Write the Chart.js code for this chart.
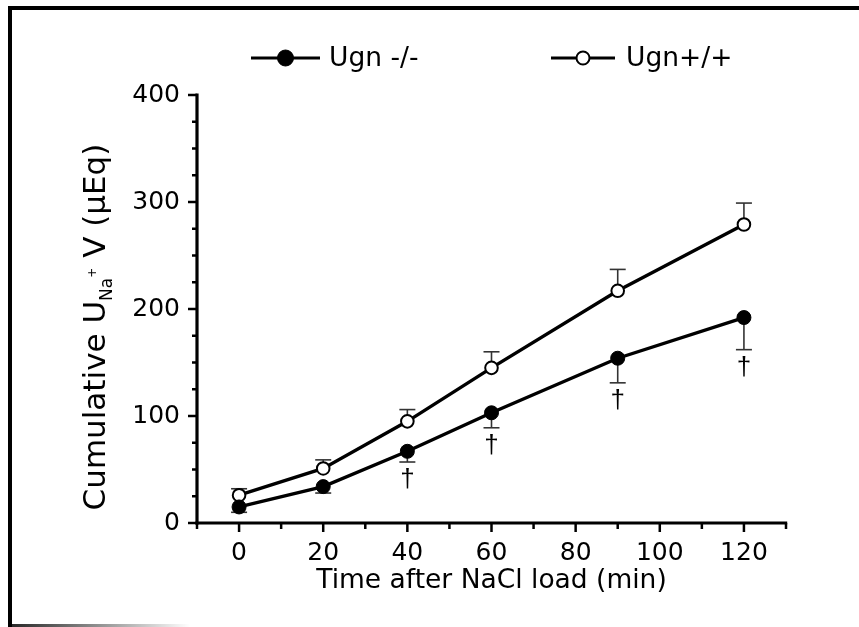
<!DOCTYPE html>
<html><head><meta charset="utf-8">
<script src="https://cdn.jsdelivr.net/npm/chart.js@4.4.0/dist/chart.umd.min.js"></script>
<style>html,body{margin:0;padding:0;background:#fff;overflow:hidden;}</style>
</head><body>
<canvas id="c" width="859" height="627"></canvas>
<script>
// ---- data ----
const timeMin = [0, 20, 40, 60, 90, 120];
const ugnKO = [15, 34, 67, 103, 154, 192];
const ugnKOErr = [5, 6, 10, 14, 23, 30];
const ugnWT = [26, 51, 95, 145, 217, 279];
const ugnWTErr = [6, 8, 11, 15, 20, 20];
const daggerTimes = [40, 60, 90, 120];
const xTickLabels = [0, 20, 40, 60, 80, 100, 120];
const xMinorTicks = [-10, 10, 30, 50, 70, 90, 110, 130];
const yTickLabels = [0, 100, 200, 300, 400];
const yMinorTicks = [25, 50, 75, 125, 150, 175, 225, 250, 275, 325, 350, 375];
const seriesNames = ['Ugn -/-', 'Ugn+/+'];
const xTitle = 'Time after NaCl load (min)';
const yTitleParts = ['Cumulative U', 'Na', '+', ' V (\u00B5Eq)'];

const FONT = "'DejaVu Sans', 'Liberation Sans', Arial, sans-serif";
const DAGGER_FONT = "'Liberation Sans', Arial, sans-serif";

const framePlugin = {
  id: 'frame',
  beforeDraw(chart) {
    const ctx = chart.ctx;
    ctx.save();
    ctx.fillStyle = '#fff';
    ctx.fillRect(0, 0, chart.width, chart.height);
    ctx.fillStyle = '#000';
    ctx.fillRect(8, 6, chart.width - 8, 4);
    ctx.fillRect(8, 6, 4, 621);
    const g = ctx.createLinearGradient(10, 0, 190, 0);
    g.addColorStop(0, 'rgba(0,0,0,0.85)');
    g.addColorStop(1, 'rgba(0,0,0,0)');
    ctx.fillStyle = g;
    ctx.fillRect(8, 624, 182, 3);
    ctx.restore();
  }
};

const axesPlugin = {
  id: 'axesLines',
  beforeDatasetsDraw(chart) {
    const {ctx, chartArea: a, scales: {x, y}} = chart;
    ctx.save();
    ctx.strokeStyle = '#000';
    ctx.lineWidth = 3.2;
    ctx.beginPath(); ctx.moveTo(a.left, a.top - 1.5); ctx.lineTo(a.left, a.bottom + 1.6); ctx.stroke();
    ctx.beginPath(); ctx.moveTo(a.left - 1.6, a.bottom); ctx.lineTo(a.right + 1.2, a.bottom); ctx.stroke();
    ctx.lineWidth = 2.5;
    const hl = (v, len) => { const p = y.getPixelForValue(v); ctx.beginPath(); ctx.moveTo(a.left, p); ctx.lineTo(a.left - len, p); ctx.stroke(); };
    const vl = (v, len) => { const p = x.getPixelForValue(v); ctx.beginPath(); ctx.moveTo(p, a.bottom); ctx.lineTo(p, a.bottom + len); ctx.stroke(); };
    yTickLabels.forEach(v => hl(v, 9));
    yMinorTicks.forEach(v => hl(v, 5));
    xTickLabels.forEach(v => vl(v, 9));
    xMinorTicks.forEach(v => vl(v, 6));
    ctx.restore();
  }
};

const errPlugin = {
  id: 'errbars',
  beforeDatasetsDraw(chart) {
    const {ctx, scales: {x, y}} = chart;
    ctx.save();
    ctx.strokeStyle = '#333';
    ctx.lineWidth = 1.6;
    const draw = (means, errs, dir) => {
      timeMin.forEach((t, i) => {
        const px = x.getPixelForValue(t);
        const p0 = y.getPixelForValue(means[i]);
        const p1 = y.getPixelForValue(means[i] + dir * errs[i]);
        ctx.beginPath(); ctx.moveTo(px, p0); ctx.lineTo(px, p1); ctx.stroke();
        ctx.beginPath(); ctx.moveTo(px - 8, p1); ctx.lineTo(px + 8, p1); ctx.stroke();
      });
    };
    draw(ugnKO, ugnKOErr, -1);
    draw(ugnWT, ugnWTErr, 1);
    ctx.restore();
  }
};

const daggerPlugin = {
  id: 'daggers',
  afterDatasetsDraw(chart) {
    const {ctx, scales: {x, y}} = chart;
    ctx.save();
    ctx.fillStyle = '#000';
    ctx.font = `26px ${DAGGER_FONT}`;
    ctx.textAlign = 'center';
    ctx.textBaseline = 'middle';
    daggerTimes.forEach(t => {
      const i = timeMin.indexOf(t);
      const px = x.getPixelForValue(t);
      const py = y.getPixelForValue(ugnKO[i] - ugnKOErr[i]) + 18;
      ctx.fillText('\u2020', px, py);
    });
    ctx.restore();
  }
};

const legendPlugin = {
  id: 'customLegend',
  afterDraw(chart) {
    const ctx = chart.ctx;
    const items = [
      {x0: 251, x1: 320, tx: 329, fill: '#000', r: 8, bw: 1},
      {x0: 551, x1: 615, tx: 626, fill: '#fff', r: 6.5, bw: 2}
    ];
    const ly = 58;
    ctx.save();
    items.forEach((it, k) => {
      ctx.strokeStyle = '#000';
      ctx.lineWidth = 3;
      ctx.beginPath(); ctx.moveTo(it.x0, ly); ctx.lineTo(it.x1, ly); ctx.stroke();
      ctx.beginPath(); ctx.arc((it.x0 + it.x1) / 2, ly, it.r, 0, Math.PI * 2);
      ctx.fillStyle = it.fill; ctx.fill();
      ctx.lineWidth = it.bw; ctx.stroke();
      ctx.fillStyle = '#000';
      ctx.font = `26.5px ${FONT}`;
      ctx.textAlign = 'left';
      ctx.textBaseline = 'middle';
      ctx.fillText(seriesNames[k], it.tx, ly + 1);
    });
    ctx.restore();
  }
};

const yTitlePlugin = {
  id: 'yTitle',
  afterDraw(chart) {
    const ctx = chart.ctx;
    const fonts = [`31px ${FONT}`, `17px ${FONT}`, `12px ${FONT}`, `31px ${FONT}`];
    const dys = [0, 7, -9, 0];
    ctx.save();
    let total = 0;
    const widths = yTitleParts.map((t, i) => { ctx.font = fonts[i]; const w = ctx.measureText(t).width; total += w; return w; });
    ctx.translate(105, 327);
    ctx.rotate(-Math.PI / 2);
    ctx.fillStyle = '#000';
    ctx.textBaseline = 'alphabetic';
    ctx.textAlign = 'left';
    let cx = -total / 2;
    yTitleParts.forEach((t, i) => {
      ctx.font = fonts[i];
      ctx.fillText(t, cx, dys[i]);
      cx += widths[i];
    });
    ctx.restore();
  }
};

const tickFont = {family: FONT, size: 25};

new Chart(document.getElementById('c'), {
  type: 'line',
  data: {
    datasets: [
      {
        label: seriesNames[0],
        data: timeMin.map((t, i) => ({x: t, y: ugnKO[i]})),
        borderColor: '#000', borderWidth: 3.4,
        pointRadius: 7, pointBackgroundColor: '#000', pointBorderColor: '#000', pointBorderWidth: 1,
        tension: 0
      },
      {
        label: seriesNames[1],
        data: timeMin.map((t, i) => ({x: t, y: ugnWT[i]})),
        borderColor: '#000', borderWidth: 3.4,
        pointRadius: 6.3, pointBackgroundColor: '#fff', pointBorderColor: '#000', pointBorderWidth: 2,
        tension: 0
      }
    ]
  },
  options: {
    responsive: false,
    animation: false,
    devicePixelRatio: 1,
    events: [],
    layout: {padding: {left: 0, right: 73, top: 95, bottom: 0}},
    plugins: {legend: {display: false}, tooltip: {enabled: false}, title: {display: false}},
    scales: {
      x: {
        type: 'linear', min: -10, max: 130,
        afterBuildTicks: s => { s.ticks = xTickLabels.map(v => ({value: v})); },
        afterFit: s => { s.height = 104; },
        border: {display: false},
        grid: {display: false, drawTicks: false},
        ticks: {font: tickFont, color: '#000', padding: 15, maxRotation: 0, autoSkip: false},
        title: {display: true, text: xTitle, font: {family: FONT, size: 26.5}, color: '#000', padding: {top: 0, bottom: 30}}
      },
      y: {
        type: 'linear', min: 0, max: 400,
        afterBuildTicks: s => { s.ticks = yTickLabels.map(v => ({value: v})); },
        afterFit: s => { s.width = 197; },
        border: {display: false},
        grid: {display: false, drawTicks: false},
        ticks: {font: tickFont, color: '#000', padding: 17, autoSkip: false}
      }
    }
  },
  plugins: [framePlugin, axesPlugin, errPlugin, daggerPlugin, legendPlugin, yTitlePlugin]
});
</script>
</body></html>
